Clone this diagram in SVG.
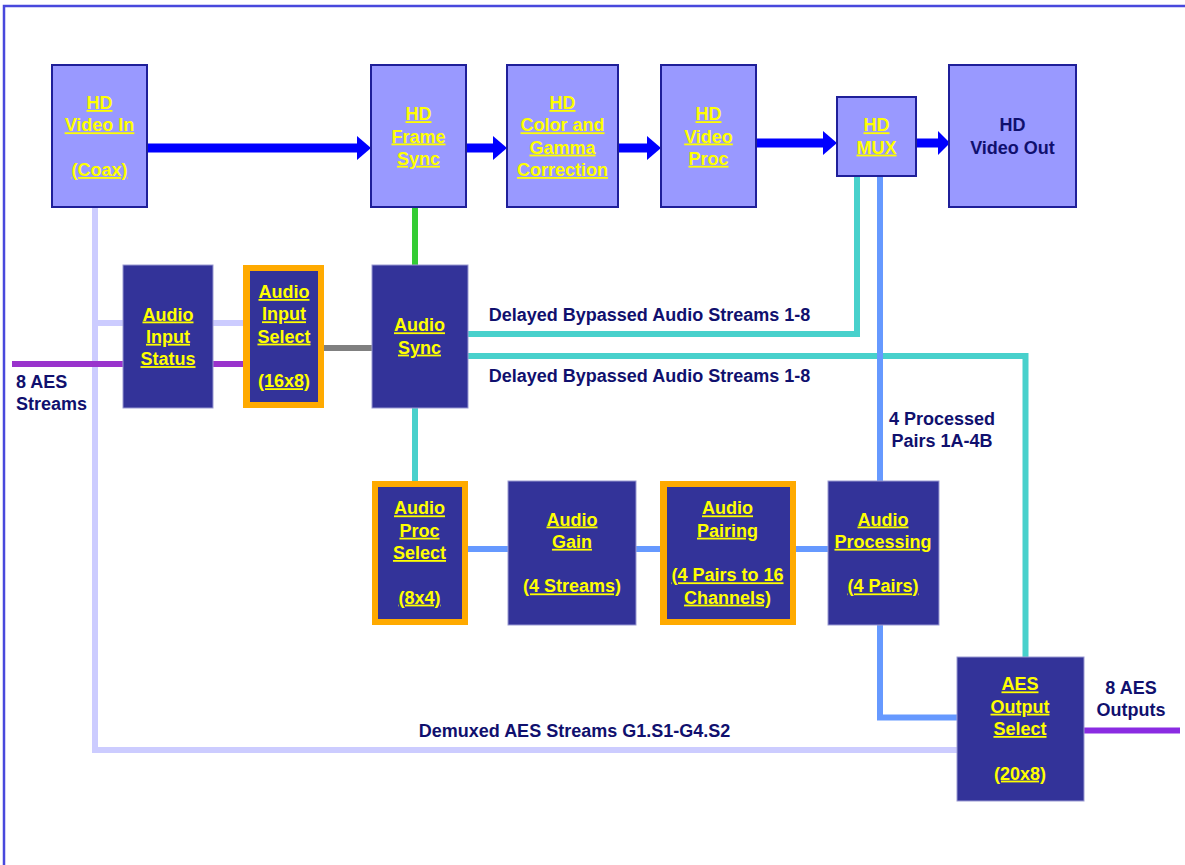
<svg xmlns="http://www.w3.org/2000/svg" width="1185" height="865" viewBox="0 0 1185 865">
<defs>
<style>
.frame{fill:none;stroke:#4848dc;stroke-width:2.5}
.lb{fill:#9999ff;stroke:#1f1f99;stroke-width:2}
.db{fill:#333399;stroke:#9a9ad2;stroke-width:1}
.ob{fill:#ffaa00}
.t{font-family:"Liberation Sans",Arial,sans-serif;font-weight:bold;font-size:18px;text-anchor:middle}
.y{fill:#ffff00;text-decoration:underline}
.n{fill:#10106e}
.ln{fill:none;stroke-width:6}
.lav{stroke:#ccccff}
.pur{stroke:#9933cc}
.pur2{stroke:#8a2be2}
.gry{stroke:#808080}
.grn{stroke:#33cc33}
.teal{stroke:#48d1cc}
.blu{stroke:#6699ff}
.vid{stroke:#0000ff;stroke-width:9;fill:none}
.ah{fill:#0000ff}
</style>
</defs>
<rect class="frame" x="4" y="6" width="1200" height="880"/>

<g id="connectors">
  <!-- lavender demux path -->
  <polyline class="ln lav" points="95,207 95,750 957,750"/>
  <line class="ln lav" x1="95" y1="323" x2="243" y2="323"/>
  <!-- purple AES input -->
  <line class="ln pur" x1="12" y1="364" x2="243" y2="364"/>
  <!-- grey select to sync -->
  <line class="ln gry" x1="324" y1="348" x2="372" y2="348"/>
  <!-- green frame sync to audio sync -->
  <line class="ln grn" x1="415" y1="207" x2="415" y2="265"/>
  <!-- teal lines -->
  <polyline class="ln teal" points="857,176 857,334 468,334"/>
  <polyline class="ln teal" points="468,356 1025.5,356 1025.5,657"/>
  <line class="ln teal" x1="415" y1="408" x2="415" y2="481"/>
  <!-- blue processed pairs -->
  <line class="ln blu" x1="880" y1="176" x2="880" y2="481"/>
  <polyline class="ln blu" points="880,625 880,717.5 957,717.5"/>
  <line class="ln blu" x1="468" y1="549" x2="508" y2="549"/>
  <line class="ln blu" x1="636" y1="549" x2="660" y2="549"/>
  <line class="ln blu" x1="796" y1="549" x2="828" y2="549"/>
  <!-- purple AES output -->
  <line class="ln pur2" x1="1084" y1="730.5" x2="1180" y2="730.5"/>
  <!-- video arrows -->
  <line class="vid" x1="147" y1="148" x2="358" y2="148"/>
  <polygon class="ah" points="357,136 371,148 357,160"/>
  <line class="vid" x1="466" y1="148" x2="494" y2="148"/>
  <polygon class="ah" points="493,136 507,148 493,160"/>
  <line class="vid" x1="618" y1="148" x2="648" y2="148"/>
  <polygon class="ah" points="647,136 661,148 647,160"/>
  <line class="vid" x1="756" y1="143" x2="824" y2="143"/>
  <polygon class="ah" points="823,131 837,143 823,155"/>
  <line class="vid" x1="916" y1="143" x2="940" y2="143"/>
  <polygon class="ah" points="938,131 950,143 938,155"/>
  <!-- labels -->
  <text class="t n" x="649.5" y="321">Delayed Bypassed Audio Streams 1-8</text>
  <text class="t n" x="649.5" y="382">Delayed Bypassed Audio Streams 1-8</text>
  <text class="t n" x="942" y="425">4 Processed</text>
  <text class="t n" x="942" y="447">Pairs 1A-4B</text>
  <text class="t n" x="574.5" y="737">Demuxed AES Streams G1.S1-G4.S2</text>
  <text class="t n" x="16" y="387.5" style="text-anchor:start">8 AES</text>
  <text class="t n" x="16" y="410" style="text-anchor:start">Streams</text>
  <text class="t n" x="1131" y="694">8 AES</text>
  <text class="t n" x="1131" y="716">Outputs</text>
</g>

<g id="hd-video-in">
  <rect class="lb" x="52" y="65" width="95" height="142"/>
  <text class="t y" x="99.5" y="109">HD</text>
  <text class="t y" x="99.5" y="131.3">Video In</text>
  <text class="t y" x="99.5" y="176">(Coax)</text>
</g>
<g id="hd-frame-sync">
  <rect class="lb" x="371" y="65" width="95" height="142"/>
  <text class="t y" x="418.5" y="120.2">HD</text>
  <text class="t y" x="418.5" y="142.5">Frame</text>
  <text class="t y" x="418.5" y="164.8">Sync</text>
</g>
<g id="hd-color-gamma">
  <rect class="lb" x="507" y="65" width="111" height="142"/>
  <text class="t y" x="562.5" y="109">HD</text>
  <text class="t y" x="562.5" y="131.3">Color and</text>
  <text class="t y" x="562.5" y="153.6">Gamma</text>
  <text class="t y" x="562.5" y="176">Correction</text>
</g>
<g id="hd-video-proc">
  <rect class="lb" x="661" y="65" width="95" height="142"/>
  <text class="t y" x="708.5" y="120.2">HD</text>
  <text class="t y" x="708.5" y="142.5">Video</text>
  <text class="t y" x="708.5" y="164.8">Proc</text>
</g>
<g id="hd-mux">
  <rect class="lb" x="837" y="97" width="79" height="79"/>
  <text class="t y" x="876.5" y="131.3">HD</text>
  <text class="t y" x="876.5" y="153.6">MUX</text>
</g>
<g id="hd-video-out">
  <rect class="lb" x="949" y="65" width="127" height="142"/>
  <text class="t n" x="1012.5" y="131.3">HD</text>
  <text class="t n" x="1012.5" y="153.6">Video Out</text>
</g>

<g id="audio-input-status">
  <rect class="db" x="123" y="265" width="90" height="143"/>
  <text class="t y" x="168" y="320.5">Audio</text>
  <text class="t y" x="168" y="342.8">Input</text>
  <text class="t y" x="168" y="365.1">Status</text>
</g>
<g id="audio-input-select">
  <rect class="ob" x="243" y="265" width="81" height="143"/>
  <rect class="db" x="250" y="271" width="68" height="131" style="stroke:none"/>
  <text class="t y" x="284" y="298">Audio</text>
  <text class="t y" x="284" y="320.3">Input</text>
  <text class="t y" x="284" y="342.6">Select</text>
  <text class="t y" x="284" y="387.2">(16x8)</text>
</g>
<g id="audio-sync">
  <rect class="db" x="372" y="265" width="96" height="143"/>
  <text class="t y" x="419.5" y="331.3">Audio</text>
  <text class="t y" x="419.5" y="353.6">Sync</text>
</g>

<g id="audio-proc-select">
  <rect class="ob" x="372" y="481" width="96" height="144"/>
  <rect class="db" x="378" y="487" width="84" height="132" style="stroke:none"/>
  <text class="t y" x="419.5" y="514.4">Audio</text>
  <text class="t y" x="419.5" y="536.7">Proc</text>
  <text class="t y" x="419.5" y="559">Select</text>
  <text class="t y" x="419.5" y="603.6">(8x4)</text>
</g>
<g id="audio-gain">
  <rect class="db" x="508" y="481" width="128" height="144"/>
  <text class="t y" x="572" y="525.5">Audio</text>
  <text class="t y" x="572" y="547.8">Gain</text>
  <text class="t y" x="572" y="592.4">(4 Streams)</text>
</g>
<g id="audio-pairing">
  <rect class="ob" x="660" y="481" width="136" height="144"/>
  <rect class="db" x="667" y="487" width="123" height="132" style="stroke:none"/>
  <text class="t y" x="727.5" y="514.4">Audio</text>
  <text class="t y" x="727.5" y="536.7">Pairing</text>
  <text class="t y" x="727.5" y="581.3">(4 Pairs to 16</text>
  <text class="t y" x="727.5" y="603.6">Channels)</text>
</g>
<g id="audio-processing">
  <rect class="db" x="828" y="481" width="111" height="144"/>
  <text class="t y" x="883" y="525.5">Audio</text>
  <text class="t y" x="883" y="547.8">Processing</text>
  <text class="t y" x="883" y="592.4">(4 Pairs)</text>
</g>
<g id="aes-output-select">
  <rect class="db" x="957" y="657" width="127" height="144"/>
  <text class="t y" x="1020" y="690.4">AES</text>
  <text class="t y" x="1020" y="712.7">Output</text>
  <text class="t y" x="1020" y="735">Select</text>
  <text class="t y" x="1020" y="779.6">(20x8)</text>
</g>
</svg>
